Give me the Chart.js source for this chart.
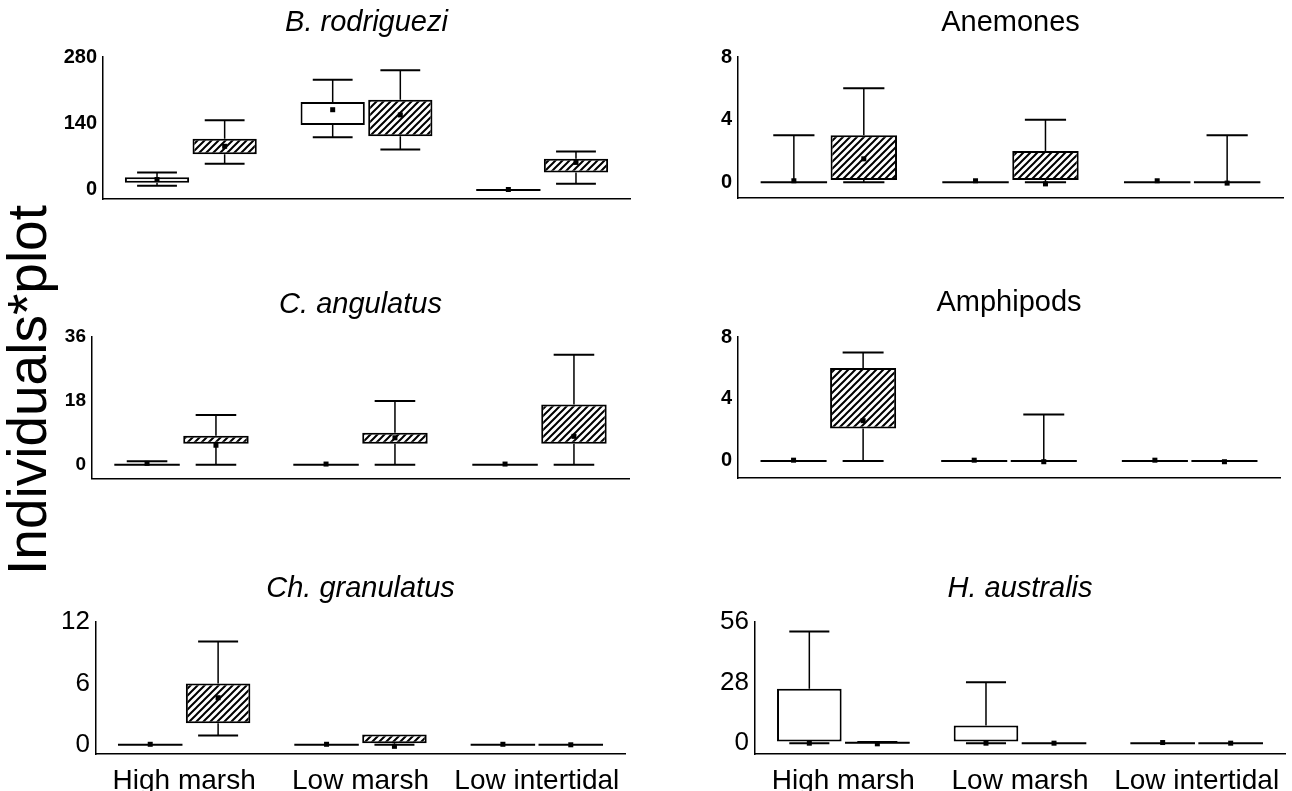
<!DOCTYPE html>
<html lang="en">
<head>
  <meta charset="UTF-8">
  <title>Individuals per plot by habitat</title>
  <script src="https://cdn.jsdelivr.net/npm/chart.js"></script>
  <style>
    body { margin: 0; background: #fff; width: 1292px; height: 791px; overflow: hidden; position: relative; font-family: "Liberation Sans", Arial, sans-serif; }
    canvas.panel { position: absolute; }
    #ylabel { position: absolute; left: 27px; top: 390px; transform: translate(-50%, -50%) rotate(-90deg); font-size: 55px; white-space: nowrap; color: #000; }
  </style>
</head>
<body>
  <div id="ylabel">Individuals*plot</div>

  <script>
    const habitats = ['High marsh', 'Low marsh', 'Low intertidal'];

    // each entry: [min, q1, q3, max, median] for High marsh, Low marsh, Low intertidal
    const rodriguezOpen = [[9, 15, 27, 37, 22], [111, 137, 185, 232, 169], [0, 0, 0, 0, 1]];
    const rodriguezHatch = [[55, 75, 108, 147, 92], [85, 113, 190, 252, 158], [13, 37, 66, 81, 58]];
    const rodriguezTicks = [0, 140, 280];

    const anemoneOpen = [[0, 0, 0, 3, 0.1], [0, 0, 0, 0, 0.1], [0, 0, 0, 0, 0.1]];
    const anemoneHatch = [[0, 0.15, 3, 6, 1.5], [0, 0.15, 2, 4, -0.1], [0, 0, 0, 3, -0.05]];
    const anemoneTicks = [0, 4, 8];

    const angulatusOpen = [[0, 0, 0, 1, 0.4], [0, 0, 0, 0, 0.2], [0, 0, 0, 0, 0.2]];
    const angulatusHatch = [[0, 5.9, 8.2, 14, 5.5], [0, 5.9, 9, 18, 7.6], [0, 5.9, 17, 31, 8]];
    const angulatusTicks = [0, 18, 36];

    const amphipodOpen = [[0, 0, 0, 0, 0.05], [0, 0, 0, 0, 0.05], [0, 0, 0, 0, 0.05]];
    const amphipodHatch = [[0, 2.1, 6, 7, 2.6], [0, 0, 0, 3, -0.05], [0, 0, 0, 0, -0.05]];
    const amphipodTicks = [0, 4, 8];

    const granulatusOpen = [[0, 0, 0, 0, 0.05], [0, 0, 0, 0, 0.05], [0, 0, 0, 0, 0.05]];
    const granulatusHatch = [[0.9, 2.1, 6, 10.1, 4.6], [0, 0.15, 1, 1, -0.15], [0, 0, 0, 0, 0]];
    const granulatusTicks = [0, 6, 12];

    const australisOpen = [[0, 0.8, 25.2, 51.6, 0], [0, 0.8, 8.2, 28.1, 0], [0, 0, 0, 0, 0.3]];
    const australisHatch = [[0, 0, 0.4, 0.5, -0.3], [0, 0, 0, 0, 0], [0, 0, 0, 0, 0]];
    const australisTicks = [0, 28, 56];

    // chart area targets: left, right, top, bottom, title centre y
    const panels = [
      { title: 'B. rodriguezi', italic: true, open: rodriguezOpen, hatch: rodriguezHatch, ticks: rodriguezTicks, min: -19, tickFont: { size: 20, weight: 'bold' }, box: [103, 630, 57, 201, 23], labels: false },
      { title: 'Anemones', italic: false, open: anemoneOpen, hatch: anemoneHatch, ticks: anemoneTicks, min: -1, tickFont: { size: 20, weight: 'bold' }, box: [738, 1283, 57, 200, 23], labels: false },
      { title: 'C. angulatus', italic: true, open: angulatusOpen, hatch: angulatusHatch, ticks: angulatusTicks, min: -3.9, tickFont: { size: 19, weight: 'bold' }, box: [92, 629, 337, 480, 305], labels: false },
      { title: 'Amphipods', italic: false, open: amphipodOpen, hatch: amphipodHatch, ticks: amphipodTicks, min: -1.1, tickFont: { size: 20, weight: 'bold' }, box: [738, 1280, 337, 480, 303], labels: false },
      { title: 'Ch. granulatus', italic: true, open: granulatusOpen, hatch: granulatusHatch, ticks: granulatusTicks, min: -0.9, tickFont: { size: 26 }, box: [96, 625, 622, 754, 589], labels: true },
      { title: 'H. australis', italic: true, open: australisOpen, hatch: australisHatch, ticks: australisTicks, min: -5, tickFont: { size: 26 }, box: [755, 1285, 622, 754, 589], labels: true }
    ];

    const FONT = '"Liberation Sans", Arial, sans-serif';

    function makeHatch() {
      const c = document.createElement('canvas');
      c.width = c.height = 7;
      const g = c.getContext('2d');
      g.fillStyle = '#fff';
      g.fillRect(0, 0, 7, 7);
      g.strokeStyle = '#000';
      g.lineWidth = 2;
      g.beginPath();
      g.moveTo(-1, 8); g.lineTo(8, -1);
      g.moveTo(-1, 1); g.lineTo(1, -1);
      g.moveTo(6, 8); g.lineTo(8, 6);
      g.stroke();
      return g.createPattern(c, 'repeat');
    }

    // whiskers, caps, flat boxes and median dots, placed on the bar elements
    const whiskerPlugin = {
      id: 'whiskers',
      afterDatasetsDraw(chart) {
        const ctx = chart.ctx;
        const y = chart.scales.y;
        ctx.save();
        ctx.strokeStyle = '#000';
        ctx.fillStyle = '#000';
        chart.data.datasets.forEach((ds, di) => {
          chart.getDatasetMeta(di).data.forEach((bar, i) => {
            const [lo, q1, q3, hi, mid] = ds.stats[i];
            const x = bar.x, half = bar.width / 2, cap = bar.width * 0.31;
            const yLo = y.getPixelForValue(lo), yQ1 = y.getPixelForValue(q1);
            const yQ3 = y.getPixelForValue(q3), yHi = y.getPixelForValue(hi);
            ctx.lineWidth = 1.5;
            ctx.beginPath();
            if (hi > q3) {
              ctx.moveTo(x, yQ3); ctx.lineTo(x, yHi);
            }
            if (lo < q1) {
              ctx.moveTo(x, yQ1); ctx.lineTo(x, yLo);
            }
            ctx.stroke();
            ctx.lineWidth = 2;
            ctx.beginPath();
            if (hi > q3) { ctx.moveTo(x - cap, yHi); ctx.lineTo(x + cap, yHi); }
            if (lo < q1) { ctx.moveTo(x - cap, yLo); ctx.lineTo(x + cap, yLo); }
            if (yQ1 - yQ3 < 2.5) {
              ctx.moveTo(x - half, (yQ1 + yQ3) / 2); ctx.lineTo(x + half, (yQ1 + yQ3) / 2);
            }
            ctx.stroke();
            const ym = y.getPixelForValue(mid);
            ctx.fillRect(x - 2.5, ym - 2.5, 5, 5);
          });
        });
        ctx.restore();
      }
    };

    // panel title centred over the plot area rather than the whole canvas
    const titlePlugin = {
      id: 'panelTitle',
      afterDraw(chart, args, opts) {
        const { ctx, chartArea } = chart;
        ctx.save();
        ctx.font = opts.font;
        ctx.fillStyle = '#000';
        ctx.textAlign = 'center';
        ctx.textBaseline = 'middle';
        ctx.fillText(opts.text, (chartArea.left + chartArea.right) / 2, opts.y);
        ctx.restore();
      }
    };

    const hatch = makeHatch();
    const Wy = 60;

    panels.forEach(p => {
      const [L, R, T, B, ty] = p.box;
      const Hx = p.labels ? 40 : 0;
      const padBottom = p.labels ? 0 : 16;
      const padRight = 20;
      const top = ty - 22;
      const canvas = document.createElement('canvas');
      canvas.className = 'panel';
      canvas.width = R + padRight - (L - Wy);
      canvas.height = B - top + Hx + padBottom;
      canvas.style.left = (L - Wy) + 'px';
      canvas.style.top = top + 'px';
      document.body.appendChild(canvas);

      new Chart(canvas, {
        type: 'bar',
        data: {
          labels: habitats,
          datasets: [
            { data: p.open.map(s => [s[1], s[2]]), stats: p.open, backgroundColor: '#fff' },
            { data: p.hatch.map(s => [s[1], s[2]]), stats: p.hatch, backgroundColor: hatch }
          ]
        },
        options: {
          responsive: false,
          animation: false,
          events: [],
          datasets: {
            bar: { borderColor: '#000', borderWidth: 2, borderSkipped: false, categoryPercentage: 0.77, barPercentage: 0.95 }
          },
          layout: { padding: { left: 0, right: padRight, top: T - top, bottom: padBottom } },
          plugins: {
            legend: { display: false },
            tooltip: { enabled: false },
            panelTitle: { text: p.title, y: ty - top, font: (p.italic ? 'italic ' : '') + '29px ' + FONT }
          },
          scales: {
            x: {
              grid: { display: false, drawTicks: false },
              border: { color: '#000', width: 1.5 },
              ticks: { display: p.labels, color: '#000', padding: 10, maxRotation: 0, autoSkip: false, font: { family: FONT, size: 28 } },
              afterFit: s => { s.height = Hx; }
            },
            y: {
              min: p.min,
              max: p.ticks[p.ticks.length - 1],
              grid: { display: false, drawTicks: false },
              border: { color: '#000', width: 1.5 },
              ticks: { color: '#000', padding: 6, font: Object.assign({ family: FONT }, p.tickFont) },
              afterBuildTicks: s => { s.ticks = p.ticks.map(v => ({ value: v })); },
              afterFit: s => { s.width = Wy; }
            }
          }
        },
        plugins: [whiskerPlugin, titlePlugin]
      });
    });
  </script>
</body>
</html>
